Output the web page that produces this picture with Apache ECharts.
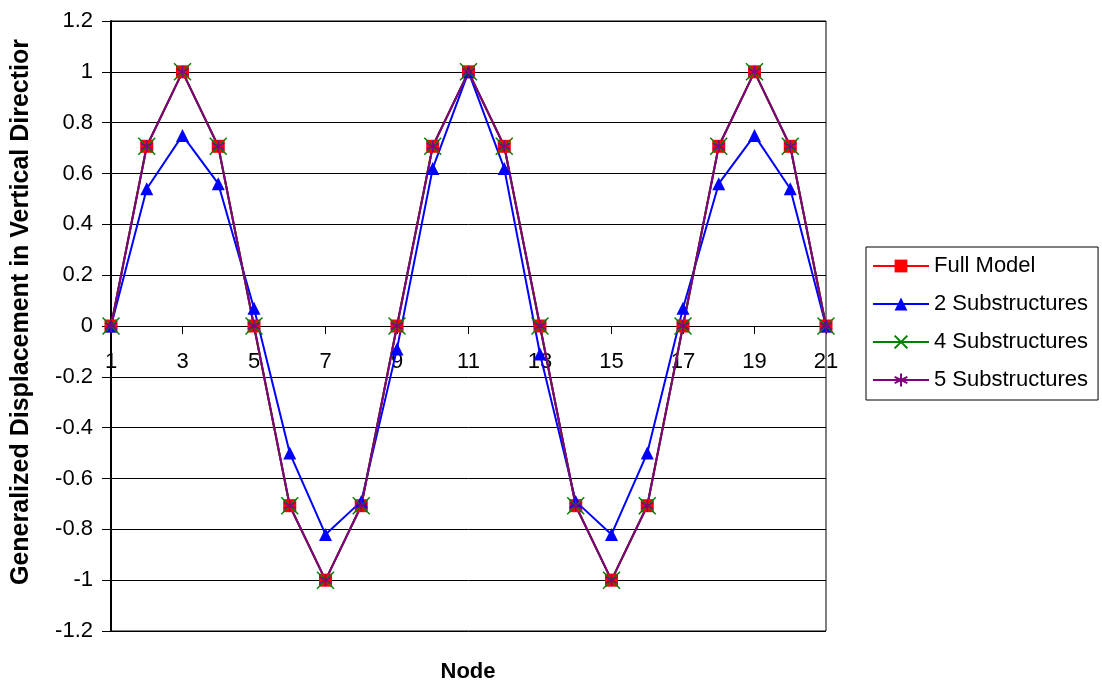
<!DOCTYPE html>
<html>
<head>
<meta charset="utf-8">
<script src="https://cdn.jsdelivr.net/npm/echarts@6/dist/echarts.min.js"></script>
<style>
  html, body { margin: 0; padding: 0; background: #fff; }
  #chart { width: 1102px; height: 686px; }
</style>
</head>
<body>
<div id="chart"></div>
<script>
// Node numbers along the beam
const nodes = ['1','2','3','4','5','6','7','8','9','10','11','12','13','14','15','16','17','18','19','20','21'];

// Generalized vertical displacement at each node
const fullModel = [0, 0.707, 1, 0.707, 0, -0.707, -1, -0.707, 0, 0.707, 1, 0.707, 0, -0.707, -1, -0.707, 0, 0.707, 1, 0.707, 0];
const sub2 = [0, 0.54, 0.75, 0.56, 0.07, -0.50, -0.82, -0.69, -0.09, 0.62, 1, 0.62, -0.11, -0.69, -0.82, -0.50, 0.07, 0.56, 0.75, 0.54, 0];
const sub4 = [0, 0.707, 1, 0.707, 0, -0.707, -1, -0.707, 0, 0.707, 1, 0.707, 0, -0.707, -1, -0.707, 0, 0.707, 1, 0.707, 0];
const sub5 = [0, 0.707, 1, 0.707, 0, -0.707, -1, -0.707, 0, 0.707, 1, 0.707, 0, -0.707, -1, -0.707, 0, 0.707, 1, 0.707, 0];

const seriesNames = ['Full Model', '2 Substructures', '4 Substructures', '5 Substructures'];

const FONT = '"Liberation Sans", Arial, sans-serif';

// plot box
const GRID = { left: 111, right: 276, top: 21, bottom: 55 };
const plotHeight = 686 - GRID.top - GRID.bottom;
const Y_MIN = -1.2, Y_MAX = 1.2;

const chart = echarts.init(document.getElementById('chart'), null, { renderer: 'canvas' });

function lineSeries(name, data, color, symbol, size, extraItemStyle) {
  return {
    name: name,
    type: 'line',
    data: data,
    symbol: symbol,
    symbolSize: size,
    showAllSymbol: true,
    lineStyle: { color: color, width: 2 },
    itemStyle: Object.assign({ color: color, borderWidth: 0 }, extraItemStyle || {}),
    emphasis: { disabled: true },
    animation: false
  };
}

chart.setOption({
  backgroundColor: '#ffffff',
  animation: false,
  grid: Object.assign({
    outerBoundsMode: 'none',
    containLabel: false,
    show: true, borderColor: '#000', borderWidth: 1
  }, GRID),
  legend: {
    orient: 'vertical',
    left: 866, top: 247,
    padding: [8, 10, 9, 6],
    itemWidth: 56, itemHeight: 16, itemGap: 16,
    borderColor: '#000', borderWidth: 1,
    textStyle: { fontFamily: FONT, fontSize: 22, color: '#000' },
    data: seriesNames
  },
  graphic: [{
    type: 'text',
    x: 21, y: 312,
    rotation: Math.PI / 2,
    style: {
      text: 'Generalized Displacement in Vertical Directior',
      fontFamily: FONT, fontSize: 25, fontWeight: 'bold',
      fill: '#000', textAlign: 'center', textVerticalAlign: 'middle'
    }
  }, {
    type: 'text',
    x: 468, y: 672,
    style: {
      text: 'Node',
      fontFamily: FONT, fontSize: 22, fontWeight: 'bold',
      fill: '#000', textAlign: 'center', textVerticalAlign: 'middle'
    }
  }],
  xAxis: {
    type: 'category',
    data: nodes,
    boundaryGap: false,
    // category axis sits on the zero line of the value axis
    offset: -plotHeight * (0 - Y_MIN) / (Y_MAX - Y_MIN),
    axisLine: { onZero: false, lineStyle: { color: '#000', width: 1 } },
    axisTick: { show: true, interval: 1, length: 8, lineStyle: { color: '#000' } },
    axisLabel: { interval: 1, margin: 25, fontFamily: FONT, fontSize: 22, color: '#000' },
    splitLine: { show: false }
  },
  yAxis: {
    type: 'value',
    min: Y_MIN, max: Y_MAX, interval: 0.2,
    axisLine: { show: true, lineStyle: { color: '#000', width: 2 } },
    axisTick: { show: true, length: 9, lineStyle: { color: '#000' } },
    axisLabel: {
      margin: 18, fontFamily: FONT, fontSize: 22, color: '#000',
      formatter: v => String(Math.round(v * 10) / 10)
    },
    splitLine: { show: true, lineStyle: { color: '#000', width: 1 } }
  },
  series: [
    lineSeries(seriesNames[0], fullModel, '#ff0000', 'rect', 13),
    lineSeries(seriesNames[1], sub2, '#0000ff', 'triangle', 13),
    lineSeries(seriesNames[2], sub4, '#008000', 'path://M0,0L10,10M10,0L0,10', 17,
      { color: 'rgba(0,0,0,0)', borderColor: '#008000', borderWidth: 1.5 }),
    lineSeries(seriesNames[3], sub5, '#800080', 'path://M5,0L5,10M0.7,2.5L9.3,7.5M0.7,7.5L9.3,2.5', 12,
      { color: 'rgba(0,0,0,0)', borderColor: '#800080', borderWidth: 1.5 })
  ]
});
</script>
</body>
</html>
